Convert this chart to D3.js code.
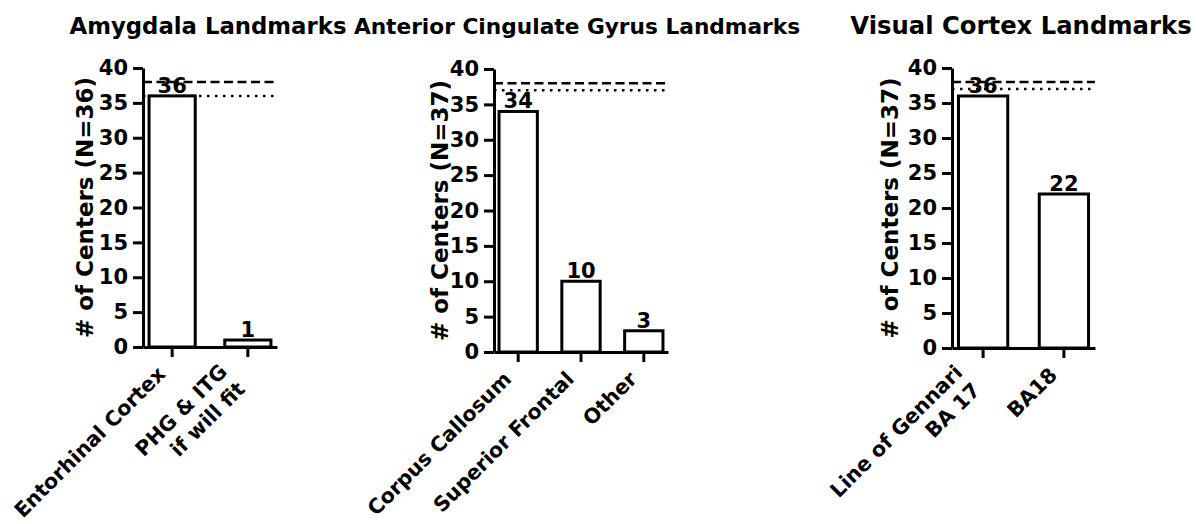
<!DOCTYPE html>
<html>
<head>
<meta charset="utf-8">
<script src="https://cdn.jsdelivr.net/npm/d3@7"></script>
<style>
  body { margin: 0; background: #fff; }
  svg text { font-family: "DejaVu Sans", sans-serif; font-weight: bold; fill: #000; }
</style>
</head>
<body>
<div id="vis"></div>
<script>
// data
const titles = ["Amygdala Landmarks", "Anterior Cingulate Gyrus Landmarks", "Visual Cortex Landmarks"]
const yLabels = ["# of Centers (N=36)", "# of Centers (N=37)", "# of Centers (N=37)"]
const amygdalaCats = ["Entorhinal Cortex", "PHG & ITG\nif will fit"]
const amygdalaVals = [36, 1]
const cingulateCats = ["Corpus Callosum", "Superior Frontal", "Other"]
const cingulateVals = [34, 10, 3]
const visualCats = ["Line of Gennari\nBA 17", "BA18"]
const visualVals = [36, 22]
const dottedLevels = [36, 37, 37]   // N per panel
const dashedLevel = 38
const yTicks = [0, 5, 10, 15, 20, 25, 30, 35, 40]

// panel placement (each panel was exported at its own scale, so titles differ a bit)
const panels = [
    {left: 143, right: 277, bottom: 347, top: 68, labelX: 93, titleX: 208, titleSize: 22.8, cats: amygdalaCats, vals: amygdalaVals},
    {left: 494, right: 668, bottom: 352, top: 69, labelX: 448, titleX: 577, titleSize: 21.7, cats: cingulateCats, vals: cingulateVals},
    {left: 952, right: 1095, bottom: 348, top: 68, labelX: 898, titleX: 1021, titleSize: 24.3, cats: visualCats, vals: visualVals}
]

let svg = d3.select('#vis')
    .append('svg')
    .attr('width', 1196)
    .attr('height', 524)

panels.forEach((p, k) => {
    let g = svg.append('g')

    let x = d3.scaleBand()
        .domain(p.cats)
        .range([p.left, p.right])
        .paddingInner(0.39)
        .paddingOuter(0.08)

    let y = d3.scaleLinear()
        .domain([0, 40])
        .range([p.bottom, p.top])

    // title
    g.append('text')
        .attr('x', p.titleX)
        .attr('y', 34)
        .attr('text-anchor', 'middle')
        .attr('font-size', p.titleSize + 'px')
        .text(titles[k])

    // reference lines
    g.append('line')
        .attr('x1', p.left).attr('x2', p.right)
        .attr('y1', y(dashedLevel)).attr('y2', y(dashedLevel))
        .attr('stroke', '#000')
        .attr('stroke-width', 2.5)
        .attr('stroke-dasharray', '9,4.5')

    g.append('line')
        .attr('x1', p.left).attr('x2', p.right)
        .attr('y1', y(dottedLevels[k])).attr('y2', y(dottedLevels[k]))
        .attr('stroke', '#000')
        .attr('stroke-width', 2.5)
        .attr('stroke-dasharray', '2.5,5.5')

    // bars
    g.selectAll('.bar')
        .data(p.cats)
        .enter()
        .append('rect')
            .attr('class', 'bar')
            .attr('x', d => x(d))
            .attr('width', x.bandwidth())
            .attr('y', (d, i) => y(p.vals[i]))
            .attr('height', (d, i) => y(0) - y(p.vals[i]))
            .attr('fill', '#fff')
            .attr('stroke', '#000')
            .attr('stroke-width', 3)

    // value labels
    g.selectAll('.val')
        .data(p.cats)
        .enter()
        .append('text')
            .attr('class', 'val')
            .attr('x', d => x(d) + x.bandwidth() / 2)
            .attr('y', (d, i) => y(p.vals[i]) - 3)
            .attr('text-anchor', 'middle')
            .attr('font-size', '21px')
            .text((d, i) => p.vals[i])

    // y axis
    let yAxis = d3.axisLeft(y)
        .tickValues(yTicks)
        .tickSize(10)
        .tickSizeOuter(0)
        .tickPadding(5)

    g.append('g')
        .attr('transform', `translate(${p.left},0)`)
        .call(yAxis)
        .call(a => a.select('.domain').attr('stroke-width', 3).attr('stroke', '#000'))
        .call(a => a.selectAll('.tick line').attr('stroke-width', 3).attr('stroke', '#000'))
        .call(a => a.selectAll('.tick text')
            .attr('font-size', '21px')
            .attr('font-family', '"DejaVu Sans", sans-serif')
            .attr('fill', '#000'))

    // x axis
    let xAxis = d3.axisBottom(x)
        .tickSize(10)
        .tickSizeOuter(0)
        .tickFormat('')

    g.append('g')
        .attr('transform', `translate(0,${p.bottom})`)
        .call(xAxis)
        .call(a => a.select('.domain').attr('stroke-width', 3).attr('stroke', '#000'))
        .call(a => a.selectAll('.tick line').attr('stroke-width', 3).attr('stroke', '#000'))

    // rotated category labels
    p.cats.forEach(c => {
        let lines = c.split('\n')
        let n = lines.length
        let lab = g.append('text')
            .attr('text-anchor', 'end')
            .attr('font-size', '20.5px')
            .attr('transform', `translate(${x(c) + x.bandwidth() / 2},${p.bottom}) rotate(-45)`)
        lines.forEach((t, i) => {
            lab.append('tspan')
                .attr('x', n > 1 ? -32 : -24)
                .attr('y', (n > 1 ? 17 : 16) + (i - (n - 1) / 2) * 25)
                .text(t)
        })
    })

    // y axis title
    g.append('text')
        .attr('transform', `translate(${p.labelX},${(p.top + p.bottom) / 2}) rotate(-90)`)
        .attr('text-anchor', 'middle')
        .attr('font-size', '23px')
        .text(yLabels[k])
})
</script>
</body>
</html>
